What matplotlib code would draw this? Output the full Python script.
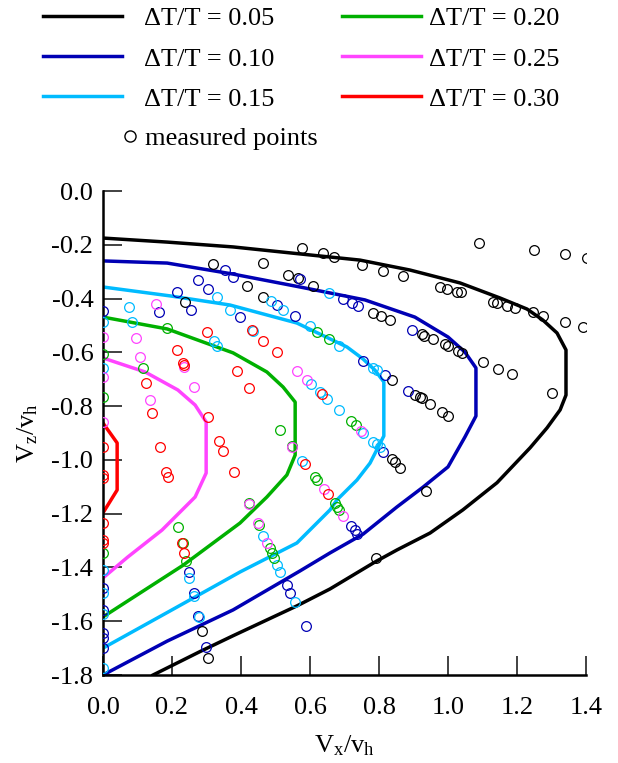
import matplotlib
matplotlib.use("Agg")
import matplotlib.pyplot as plt
from matplotlib.lines import Line2D

plt.rcParams["font.family"] = ["Liberation Serif", "DejaVu Serif"]
plt.rcParams["mathtext.default"] = "regular"
plt.rcParams["axes.unicode_minus"] = False

# ---- model curves ----
LEVELS = ["0.05", "0.10", "0.15", "0.20", "0.25", "0.30"]
COLORS = ["#000000", "#0000b4", "#00bbff", "#00b000", "#ff44ff", "#ff0000"]

c005_x = [0.0, 0.186, 0.377, 0.571, 0.745, 0.890, 1.035, 1.151, 1.229, 1.275, 1.316, 1.342,
          1.342, 1.325, 1.287, 1.238, 1.142, 1.043, 0.948, 0.852, 0.788, 0.658, 0.562, 0.377, 0.281, 0.145]
c005_y = [-0.175, -0.190, -0.208, -0.234, -0.257, -0.294, -0.342, -0.398, -0.439, -0.480, -0.528, -0.591,
          -0.759, -0.814, -0.881, -0.955, -1.085, -1.186, -1.272, -1.335, -1.380, -1.480, -1.543, -1.654, -1.713, -1.800]

c010_x = [0.0, 0.186, 0.377, 0.571, 0.759, 0.904, 1.000, 1.049, 1.081,
          1.081, 1.049, 1.000, 0.928, 0.852, 0.754, 0.658, 0.571, 0.377, 0.186, 0.0]
c010_y = [-0.260, -0.268, -0.309, -0.357, -0.405, -0.469, -0.543, -0.599, -0.658,
          -0.837, -0.915, -1.026, -1.101, -1.175, -1.276, -1.346, -1.413, -1.558, -1.674, -1.800]

c015_x = [0.0, 0.194, 0.368, 0.562, 0.707, 0.754, 0.788, 0.814,
          0.814, 0.774, 0.736, 0.678, 0.658, 0.562, 0.397, 0.194, 0.0]
c015_y = [-0.357, -0.390, -0.424, -0.491, -0.580, -0.625, -0.666, -0.710,
          -0.911, -1.012, -1.075, -1.149, -1.186, -1.309, -1.417, -1.562, -1.700]

c020_x = [0.0, 0.186, 0.377, 0.475, 0.522, 0.557,
          0.557, 0.533, 0.475, 0.397, 0.232, 0.0]
c020_y = [-0.469, -0.513, -0.602, -0.673, -0.729, -0.785,
          -0.982, -1.056, -1.138, -1.235, -1.392, -1.584]

c025_x = [0.0, 0.122, 0.217, 0.267, 0.299, 0.299, 0.267, 0.171, 0.072, 0.0]
c025_y = [-0.621, -0.673, -0.740, -0.796, -0.859, -1.049, -1.138, -1.261, -1.361, -1.439]

c030_x = [0.0, 0.041, 0.041, 0.0]
c030_y = [-0.863, -0.937, -1.112, -1.197]

CURVES_X = [c005_x, c010_x, c015_x, c020_x, c025_x, c030_x]
CURVES_Y = [c005_y, c010_y, c015_y, c020_y, c025_y, c030_y]

# ---- measured points, grouped by colour ----
p005_x = [0.319, 0.464, 0.536, 0.565, 0.609, 0.417, 0.238, 0.464, 0.577, 0.638, 0.670, 0.751,
          0.812, 0.870, 0.977, 0.997, 1.026, 1.038, 1.130, 1.142, 1.171, 1.194, 1.246, 1.275,
          1.339, 1.391, 1.090, 1.249, 1.339, 1.403, 0.783, 0.806, 0.832, 0.925, 0.930, 0.957,
          0.991, 1.000, 1.029, 1.041, 1.101, 1.145, 1.186, 1.301, 0.838, 0.904, 0.919, 0.925,
          0.948, 0.983, 1.000, 0.838, 0.846, 0.861, 0.936, 0.791, 0.287, 0.304]
p005_y = [-0.271, -0.268, -0.312, -0.324, -0.353, -0.353, -0.413, -0.394, -0.212, -0.231, -0.245, -0.275,
          -0.298, -0.316, -0.357, -0.364, -0.376, -0.376, -0.413, -0.416, -0.428, -0.435, -0.450, -0.465,
          -0.487, -0.506, -0.193, -0.219, -0.234, -0.249, -0.454, -0.465, -0.480, -0.532, -0.539, -0.550,
          -0.569, -0.576, -0.595, -0.602, -0.636, -0.662, -0.681, -0.751, -0.703, -0.759, -0.766, -0.770,
          -0.792, -0.822, -0.837, -0.997, -1.008, -1.030, -1.116, -1.365, -1.636, -1.737]

p010_x = [0.354, 0.377, 0.275, 0.304, 0.214, 0.162, 0.255, 0.397, 0.504, 0.557, 0.571, 0.696,
          0.722, 0.739, 0.0, 0.754, 0.896, 0.817, 0.884, 0.812, 0.719, 0.730, 0.736, 0.533,
          0.542, 0.588, 0.249, 0.264, 0.275, 0.299, 0.0, 0.0, 0.0, 0.0, 0.0]
p010_y = [-0.294, -0.320, -0.331, -0.364, -0.376, -0.450, -0.443, -0.469, -0.424, -0.465, -0.327, -0.402,
          -0.416, -0.428, -0.446, -0.632, -0.517, -0.684, -0.744, -0.971, -1.246, -1.261, -1.276, -1.465,
          -1.495, -1.618, -1.417, -1.495, -1.580, -1.696, -1.476, -1.558, -1.644, -1.662, -1.699]

p015_x = [0.075, 0.084, 0.330, 0.368, 0.322, 0.330, 0.487, 0.522, 0.600, 0.655, 0.684, 0.603,
          0.629, 0.649, 0.684, 0.754, 0.783, 0.794, 0.803, 0.783, 0.794, 0.435, 0.577, 0.464,
          0.504, 0.513, 0.557, 0.249, 0.264, 0.278, 0.0, 0.0, 0.0, 0.0, 0.0, 0.0]
p015_y = [-0.431, -0.487, -0.394, -0.443, -0.558, -0.576, -0.409, -0.443, -0.502, -0.379, -0.576, -0.718,
          -0.747, -0.773, -0.814, -0.900, -0.933, -0.941, -0.952, -0.658, -0.666, -0.521, -1.004, -1.283,
          -1.391, -1.417, -1.528, -1.439, -1.506, -1.584, -0.487, -0.658, -1.409, -1.495, -1.573, -1.774]

p020_x = [0.186, 0.116, 0.620, 0.655, 0.513, 0.548, 0.719, 0.733, 0.614, 0.620, 0.672, 0.678,
          0.684, 0.217, 0.232, 0.241, 0.452, 0.423, 0.484, 0.490, 0.496, 0.0, 0.0, 0.0]
p020_y = [-0.509, -0.658, -0.524, -0.550, -0.889, -0.948, -0.855, -0.870, -1.064, -1.075, -1.160, -1.175,
          -1.186, -1.249, -1.309, -1.376, -1.242, -1.160, -1.328, -1.346, -1.365, -0.606, -0.766, -1.346]

p025_x = [0.154, 0.096, 0.107, 0.235, 0.264, 0.136, 0.562, 0.591, 0.548, 0.748, 0.423, 0.449,
          0.475, 0.641, 0.696, 0.0, 0.0, 0.0]
p025_y = [-0.420, -0.547, -0.617, -0.654, -0.729, -0.777, -0.669, -0.703, -0.952, -0.892, -1.164, -1.235,
          -1.309, -1.108, -1.209, -0.543, -0.692, -0.859]

p030_x = [0.301, 0.214, 0.232, 0.235, 0.125, 0.142, 0.304, 0.388, 0.432, 0.464, 0.504, 0.423,
          0.635, 0.165, 0.183, 0.188, 0.336, 0.348, 0.380, 0.229, 0.235, 0.586, 0.652,
          0.0, 0.0, 0.0, 0.0, 0.0, 0.0]
p030_y = [-0.524, -0.591, -0.640, -0.647, -0.714, -0.826, -0.840, -0.669, -0.517, -0.558, -0.599, -0.733,
          -0.755, -0.952, -1.045, -1.064, -0.930, -0.967, -1.045, -1.309, -1.346, -1.015, -1.127,
          -0.952, -1.056, -1.067, -1.235, -1.298, -1.309]

POINTS_X = [p005_x, p010_x, p015_x, p020_x, p025_x, p030_x]
POINTS_Y = [p005_y, p010_y, p015_y, p020_y, p025_y, p030_y]

X_TICKS = [0.0, 0.2, 0.4, 0.6, 0.8, 1.0, 1.2, 1.4]
Y_TICKS = [0.0, -0.2, -0.4, -0.6, -0.8, -1.0, -1.2, -1.4, -1.6, -1.8]

FS = 19

fig = plt.figure(figsize=(6.18, 7.63), dpi=100)
ax = fig.add_axes([103 / 618, 88 / 763, 483 / 618, 484 / 763])

handles = []
for cx, cy, col, lev in zip(CURVES_X, CURVES_Y, COLORS, LEVELS):
    h, = ax.plot(cx, cy, color=col, lw=2.5, label=f"ΔT/T = {lev}", zorder=2)
    handles.append(h)

for px, py, col in zip(POINTS_X, POINTS_Y, COLORS):
    ax.plot(px, py, ls="none", marker="o", ms=7, mfc="none", mec=col, mew=0.9, zorder=3)

ax.set_xlim(0, 1.4)
ax.set_ylim(-1.8, 0.0)
ax.set_xticks(X_TICKS)
ax.set_yticks(Y_TICKS)
ax.set_xticklabels([f"{v:.1f}" for v in X_TICKS])
ax.set_yticklabels([f"{v:.1f}" for v in Y_TICKS])
ax.tick_params(direction="in", length=14, width=1.3, color="#333333", labelsize=FS)
ax.tick_params(axis="y", pad=7)
ax.tick_params(axis="x", pad=16)
for s in ["top", "right"]:
    ax.spines[s].set_visible(False)
for s in ["left", "bottom"]:
    ax.spines[s].set_linewidth(1.8)

ax.set_xlabel(r"$\mathregular{V_x/v_h}$", fontsize=FS, labelpad=10)
ax.set_ylabel(r"$\mathregular{V_z/v_h}$", fontsize=FS, labelpad=8)

# legend: two separate columns (the gap between line and text differs)
leg_kw = dict(loc="upper left", frameon=False, fontsize=FS, handlelength=3.0,
              labelspacing=0.63, borderpad=0, borderaxespad=0)
leg1 = fig.legend(handles=handles[:3], bbox_to_anchor=(43 / 618, 1 - 7 / 763),
                  handletextpad=0.83, **leg_kw)
leg2 = fig.legend(handles=handles[3:], bbox_to_anchor=(342 / 618, 1 - 7 / 763),
                  handletextpad=0.3, **leg_kw)
mp = Line2D([], [], ls="none", marker="o", ms=8, mfc="none", mec="black", mew=1.0)
fig.legend(handles=[mp], labels=["measured points"], loc="upper left",
           bbox_to_anchor=(122 / 618, 1 - 127 / 763), frameon=False, fontsize=FS,
           handlelength=0.6, handletextpad=0.27, borderpad=0, borderaxespad=0)

fig.savefig("out.png", dpi=100)
